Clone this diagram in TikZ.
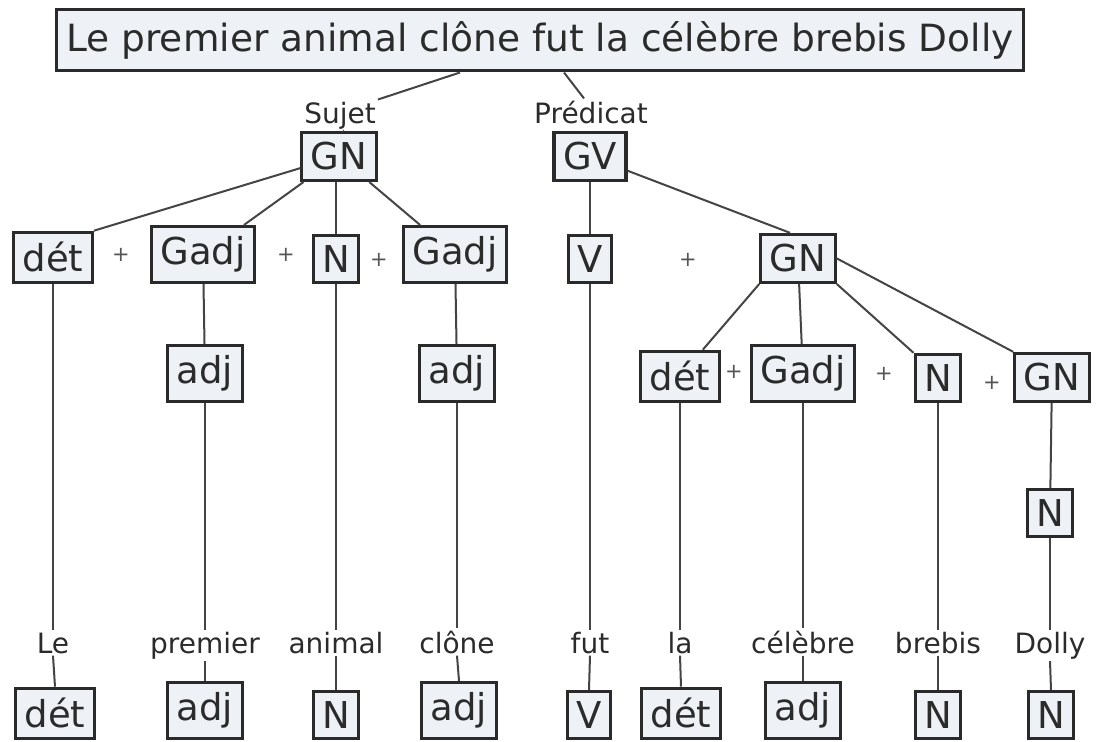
\documentclass[tikz,border=0pt]{standalone}
\usepackage{fontspec}
\setmainfont{DejaVu Sans}
\definecolor{boxfill}{HTML}{EEF2F6}
\definecolor{boxline}{HTML}{2A2A2A}
\definecolor{linecol}{HTML}{444444}
\definecolor{textcol}{HTML}{2B2B2B}
\definecolor{plusgray}{HTML}{555555}
\tikzset{
  cat/.style={draw=boxline, line width=3.2pt, fill=boxfill, inner xsep=9pt, inner ysep=10pt,
    font=\fontsize{37}{40}\selectfont, text=textcol, anchor=south},
  topbox/.style={draw=boxline, line width=3.2pt, fill=boxfill, inner xsep=10pt, inner ysep=12pt,
    font=\fontsize{37.5}{40}\selectfont, text=textcol},
  word/.style={inner sep=2pt, font=\fontsize{28}{30}\selectfont, text=textcol, anchor=base},
  plus/.style={inner sep=0pt, font=\fontsize{21}{21}\selectfont, text=plusgray},
  conn/.style={draw=linecol, line width=2pt}
}
\begin{document}
\begin{tikzpicture}[x=1pt, y=-1pt]
\useasboundingbox (0,0) rectangle (1096,742);
% top
\node[topbox] (top) at (540,40) {Le premier animal clône fut la célèbre brebis Dolly};
\node[word] (sujet) at (340,123) {Sujet};
\node[word] (pred) at (591,123) {Prédicat};
% level 1
\node[cat] (gn1) at (339,182) {GN};
\node[cat] (gv) at (590,182) {GV};
% level 2
\node[cat] (det1) at (53,284) {dét};
\node[cat] (gadj1) at (203,284) {Gadj};
\node[cat] (n1) at (336,284) {N};
\node[cat] (gadj2) at (455,284) {Gadj};
\node[cat] (v1) at (590,284) {V};
\node[cat] (gn2) at (798,284) {GN};
% level 3
\node[cat] (adj1) at (205,403) {adj};
\node[cat] (adj2) at (457,403) {adj};
\node[cat] (det2) at (680,403) {dét};
\node[cat] (gadj3) at (803,403) {Gadj};
\node[cat] (n2) at (938,403) {N};
\node[cat] (gn3) at (1052,403) {GN};
% level 4
\node[cat] (n3) at (1050,538) {N};
% words
\node[word] (w1) at (53,653) {Le};
\node[word] (w2) at (205,653) {premier};
\node[word] (w3) at (336,653) {animal};
\node[word] (w4) at (457,653) {clône};
\node[word] (w5) at (590,653) {fut};
\node[word] (w6) at (680,653) {la};
\node[word] (w7) at (803,653) {célèbre};
\node[word] (w8) at (938,653) {brebis};
\node[word] (w9) at (1050,653) {Dolly};
% bottom
\node[cat] (b1) at (55,740) {dét};
\node[cat] (b2) at (205,740) {adj};
\node[cat] (b3) at (336,740) {N};
\node[cat] (b4) at (459,740) {adj};
\node[cat] (b5) at (589,740) {V};
\node[cat] (b6) at (681,740) {dét};
\node[cat] (b7) at (803,740) {adj};
\node[cat] (b8) at (938,740) {N};
\node[cat] (b9) at (1051,740) {N};
% pluses
\node[plus] (p1) at (121,255) {+};
\node[plus] (p2) at (286,255) {+};
\node[plus] (p3) at (379,260) {+};
\node[plus] (p4) at (688,260) {+};
\node[plus] (p5) at (734,372) {+};
\node[plus] (p6) at (884,374) {+};
\node[plus] (p7) at (992,383) {+};
% connectors
\draw[conn] ([xshift=-80pt]top.south) -- (sujet.north east);
\draw[conn] ([xshift=24pt]top.south) -- ([xshift=-7pt]pred.north);
\draw[conn] ([xshift=4pt]sujet.south) -- ([xshift=4pt]gn1.north);
\draw[conn] (gn1) -- (det1.north east);
\draw[conn] (gn1) -- (gadj1);
\draw[conn] (gn1.south -| n1.north) -- (n1.north);
\draw[conn] (gn1) -- (gadj2);
\draw[conn] (gv.south) -- (v1.north);
\draw[conn] (gv) -- ([xshift=-8pt]gn2.north);
\draw[conn] (gn2.south west) -- (det2);
\draw[conn] (gn2) -- (gadj3);
\draw[conn] (gn2.south east) -- (n2.north west);
\draw[conn] (gn2.east) -- (gn3.north west);
\draw[conn] (gadj1) -- (adj1);
\draw[conn] (gadj2) -- (adj2);
\draw[conn] (gn3) -- (n3);
\draw[conn] (det1.south) -- (w1.north);
\draw[conn] (adj1.south) -- (w2.north);
\draw[conn] (n1.south) -- (w3.north);
\draw[conn] (adj2.south) -- (w4.north);
\draw[conn] (v1.south) -- (w5.north);
\draw[conn] (det2.south) -- (w6.north);
\draw[conn] (gadj3.south) -- (w7.north);
\draw[conn] (n2.south) -- (w8.north);
\draw[conn] (n3.south) -- (w9.north);
\draw[conn] (w1.south) -- (b1.north);
\draw[conn] (w2.south) -- (b2.north);
\draw[conn] (w3.south) -- (b3.north);
\draw[conn] (w4.south) -- (b4.north);
\draw[conn] (w5.south) -- (b5.north);
\draw[conn] (w6.south) -- (b6.north);
\draw[conn] (w7.south) -- (b7.north);
\draw[conn] (w8.south) -- (b8.north);
\draw[conn] (w9.south) -- (b9.north);
\end{tikzpicture}
\end{document}
